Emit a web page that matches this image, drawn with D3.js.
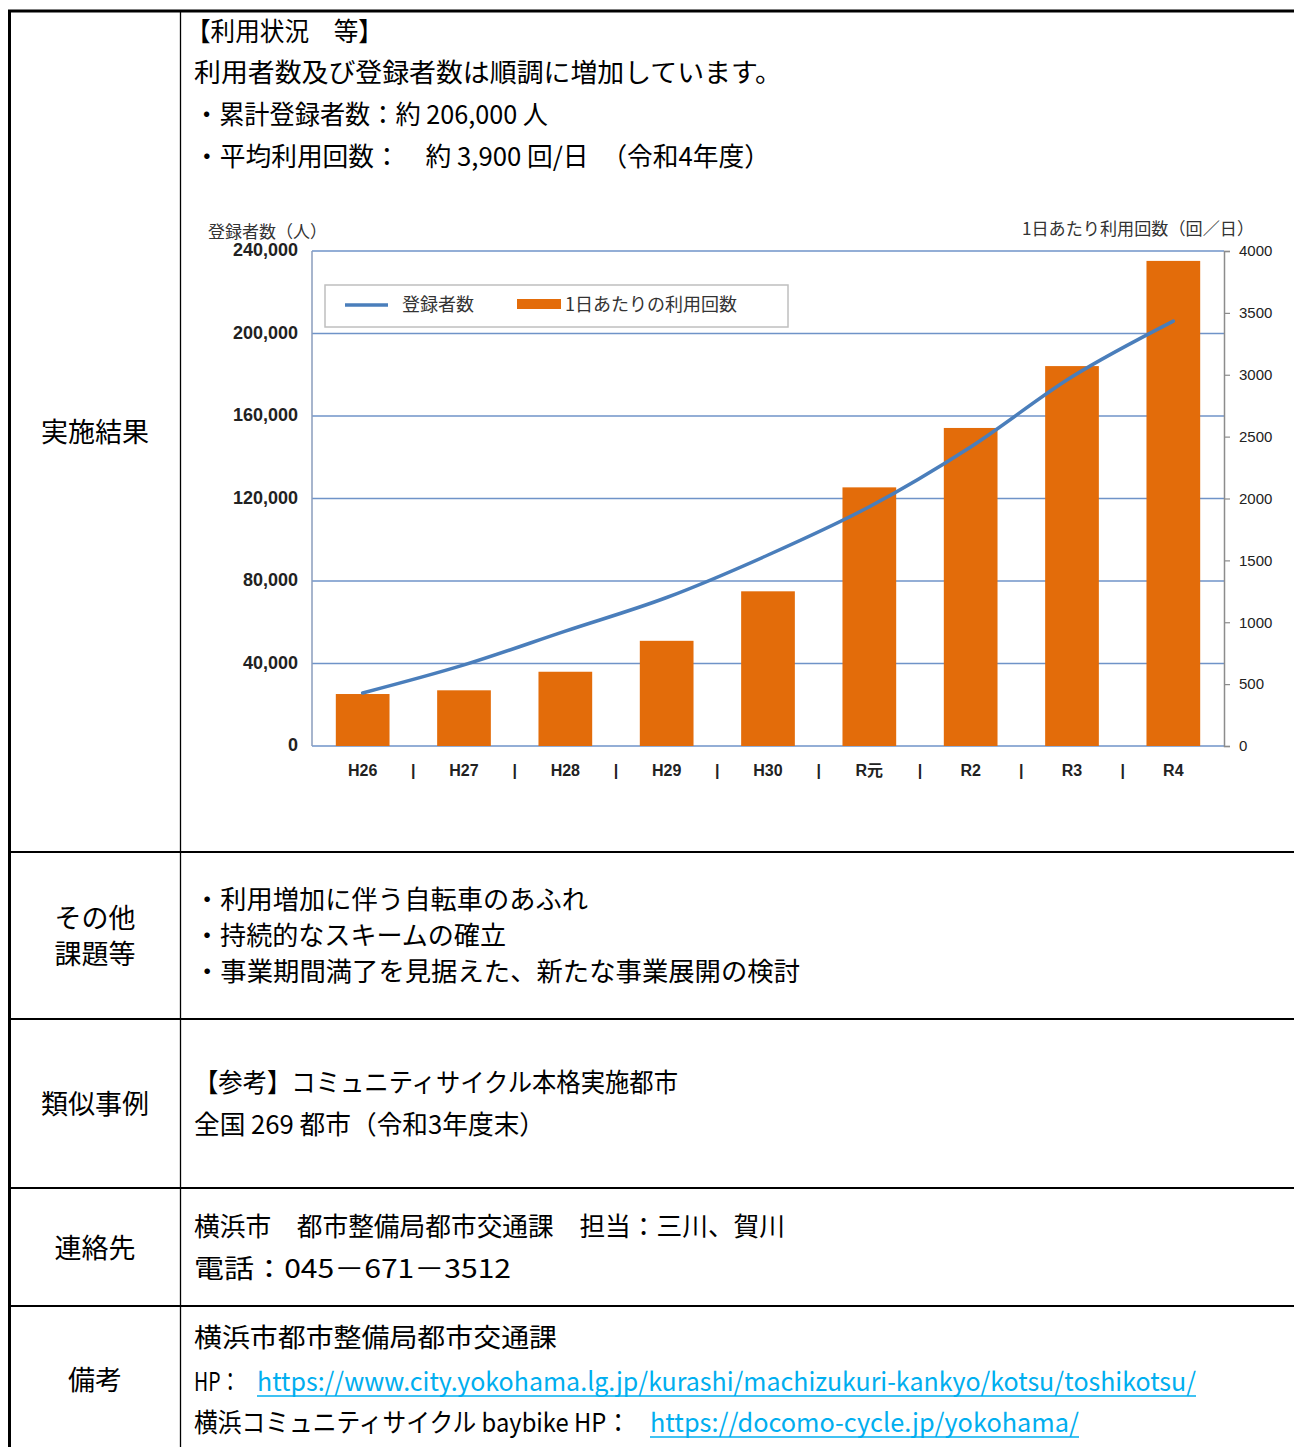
<!DOCTYPE html>
<html>
<head>
<meta charset="utf-8">
<script src="https://cdn.jsdelivr.net/npm/d3@7"></script>
<style>
  body { margin: 0; background: #fff; }
  svg { display: block; }
</style>
</head>
<body>
<div id="chart"></div>
<script>
// data
const categories = ["H26", "H27", "H28", "H29", "H30", "R元", "R2", "R3", "R4"];
const registrants = [25700, 39300, 55700, 72000, 92600, 116000, 145000, 179000, 206000];
const dailyUses = [420, 450, 600, 850, 1250, 2090, 2570, 3070, 3920];
const leftTicks = [0, 40000, 80000, 120000, 160000, 200000, 240000];
const rightTicks = [0, 500, 1000, 1500, 2000, 2500, 3000, 3500, 4000];

const rowLabels = [["実施結果"], ["その他", "課題等"], ["類似事例"], ["連絡先"], ["備考"]];
const usageLines = ["【利用状況　等】", "利用者数及び登録者数は順調に増加しています。",
    "・累計登録者数：約 206,000 人", "・平均利用回数：　約 3,900 回/日　（令和4年度）"];
const issueLines = ["・利用増加に伴う自転車のあふれ", "・持続的なスキームの確立",
    "・事業期間満了を見据えた、新たな事業展開の検討"];
const similarLines = ["【参考】コミュニティサイクル本格実施都市", "全国 269 都市（令和3年度末）"];
const contactLines = ["横浜市　都市整備局都市交通課　担当：三川、賀川", "電話：045－671－3512"];
const noteLines = ["横浜市都市整備局都市交通課", "HP：", "横浜コミュニティサイクル baybike HP："];
const links = ["https://www.city.yokohama.lg.jp/kurashi/machizukuri-kankyo/kotsu/toshikotsu/",
    "https://docomo-cycle.jp/yokohama/"];

const width = 1294, height = 1447;
const jp = "'Noto Sans CJK JP', 'Noto Sans', sans-serif";
const latin = "'Liberation Sans', Arial, 'Noto Sans CJK JP', sans-serif";

let svg = d3.select("#chart")
    .append("svg")
    .attr("width", width)
    .attr("height", height);

svg.append("rect").attr("width", width).attr("height", height).attr("fill", "#fff");

// ---- table frame ----
let frame = svg.append("g").attr("stroke", "#000");
frame.append("line").attr("x1", 8).attr("x2", width).attr("y1", 11).attr("y2", 11).attr("stroke-width", 3);
frame.append("line").attr("x1", 9.5).attr("x2", 9.5).attr("y1", 10).attr("y2", height).attr("stroke-width", 3);
frame.append("line").attr("x1", 180.5).attr("x2", 180.5).attr("y1", 11).attr("y2", height).attr("stroke-width", 1.3);
[852, 1019, 1188, 1306].forEach(function(y) {
    frame.append("line").attr("x1", 8).attr("x2", width).attr("y1", y).attr("y2", y).attr("stroke-width", 2.2);
});

// row labels
const labelY = [[432], [918, 954], [1104], [1248], [1380]];
rowLabels.forEach(function(lines, i) {
    lines.forEach(function(t, j) {
        svg.append("text")
            .attr("x", 95).attr("y", labelY[i][j])
            .attr("dy", "0.36em")
            .style("text-anchor", "middle")
            .style("font-family", jp)
            .style("font-size", "27px")
            .text(t);
    });
});

// body text, stretched to the width seen in the picture
function bodyText(t, x, y, x2, color) {
    let el = svg.append("text")
        .attr("x", x).attr("y", y)
        .attr("dy", "0.36em")
        .style("font-family", jp)
        .style("font-size", "26px")
        .style("fill", color || "#000")
        .text(t);
    if (x2) el.attr("textLength", x2 - x).attr("lengthAdjust", "spacingAndGlyphs");
    return el;
}

bodyText(usageLines[0], 186, 32, 383);
bodyText(usageLines[1], 194, 73, 782);
bodyText(usageLines[2], 194, 115, 548);
bodyText(usageLines[3], 194, 157, 770);

bodyText(issueLines[0], 194, 900, 588);
bodyText(issueLines[1], 194, 936, 506);
bodyText(issueLines[2], 194, 972, 800);

bodyText(similarLines[0], 194, 1083, 678);
bodyText(similarLines[1], 194, 1125, 545);

bodyText(contactLines[0], 194, 1227, 785);
bodyText(contactLines[1], 194, 1269, 511);

bodyText(noteLines[0], 194, 1338, 557);
bodyText(noteLines[1], 194, 1382, 240);
bodyText(noteLines[2], 194, 1423, 630);

const linkColor = "#00aeef";
[[links[0], 257, 1382, 1196], [links[1], 650, 1423, 1079]].forEach(function(l) {
    bodyText(l[0], l[1], l[2], l[3], linkColor);
    svg.append("line")
        .attr("x1", l[1]).attr("x2", l[3])
        .attr("y1", l[2] + 14).attr("y2", l[2] + 14)
        .attr("stroke", linkColor).attr("stroke-width", 1.6);
});

// ---- chart ----
const plot = {left: 312, right: 1224, top: 251, bottom: 746};

let x = d3.scaleBand()
    .domain(categories)
    .range([plot.left, plot.right])
    .paddingInner(0.47)
    .paddingOuter(0.235);

let yLeft = d3.scaleLinear().domain([0, 240000]).range([plot.bottom, plot.top]);
let yRight = d3.scaleLinear().domain([0, 4000]).range([plot.bottom, plot.top]);

let chart = svg.append("g");

// gridlines
chart.append("g")
    .selectAll("line")
    .data(leftTicks)
    .enter()
    .append("line")
    .attr("x1", plot.left).attr("x2", plot.right)
    .attr("y1", d => yLeft(d)).attr("y2", d => yLeft(d))
    .attr("stroke", "#6f93c8")
    .attr("stroke-width", 1.6);

// left axis line
chart.append("line")
    .attr("x1", plot.left).attr("x2", plot.left)
    .attr("y1", plot.top).attr("y2", plot.bottom)
    .attr("stroke", "#8a9cbc").attr("stroke-width", 1.5);

// left axis labels
chart.append("g")
    .selectAll("text")
    .data(leftTicks)
    .enter()
    .append("text")
    .attr("x", 298)
    .attr("y", d => yLeft(d))
    .attr("dy", "0.3em")
    .style("text-anchor", "end")
    .style("font-family", latin)
    .style("font-weight", "bold")
    .style("font-size", "18px")
    .style("fill", "#222")
    .text(d => d3.format(",")(d));

// right axis
let rightAxis = chart.append("g")
    .attr("transform", `translate(${plot.right}, 0)`)
    .call(d3.axisRight(yRight).tickValues(rightTicks).tickFormat(d3.format("d")).tickSize(6).tickPadding(9));
rightAxis.select(".domain").attr("stroke", "#8c8c8c").attr("stroke-width", 1.5);
rightAxis.selectAll(".tick line").attr("stroke", "#8c8c8c").attr("stroke-width", 1.2);
rightAxis.selectAll(".tick text")
    .style("font-family", latin)
    .style("font-size", "15px")
    .style("fill", "#222");

// bars
chart.append("g")
    .selectAll("rect")
    .data(categories)
    .enter()
    .append("rect")
    .attr("x", d => x(d))
    .attr("y", (d, i) => yRight(dailyUses[i]))
    .attr("width", x.bandwidth())
    .attr("height", (d, i) => plot.bottom - yRight(dailyUses[i]))
    .attr("fill", "#e36c0a");

// registrants line
let line = d3.line()
    .x((d, i) => x(categories[i]) + x.bandwidth() / 2)
    .y(d => yLeft(d))
    .curve(d3.curveMonotoneX);

chart.append("path")
    .datum(registrants)
    .attr("d", line)
    .attr("fill", "none")
    .attr("stroke", "#4a7ebb")
    .attr("stroke-width", 3.5)
    .attr("stroke-linecap", "round");

// x labels and separators
chart.append("g")
    .selectAll("text")
    .data(categories)
    .enter()
    .append("text")
    .attr("x", d => x(d) + x.bandwidth() / 2)
    .attr("y", 770)
    .attr("dy", "0.36em")
    .style("text-anchor", "middle")
    .style("font-family", latin)
    .style("font-weight", "bold")
    .style("font-size", "16px")
    .style("fill", "#222")
    .text(d => d);

chart.append("g")
    .selectAll("text")
    .data(categories.slice(1))
    .enter()
    .append("text")
    .attr("x", d => x(d) - x.step() * x.paddingInner() / 2)
    .attr("y", 770)
    .attr("dy", "0.36em")
    .style("text-anchor", "middle")
    .style("font-family", latin)
    .style("font-weight", "bold")
    .style("font-size", "16px")
    .style("fill", "#222")
    .text("|");

// axis titles
chart.append("text")
    .attr("x", 208).attr("y", 232)
    .attr("dy", "0.36em")
    .style("font-family", jp)
    .style("font-size", "17px")
    .style("fill", "#333")
    .text("登録者数（人）");

chart.append("text")
    .attr("x", 1022).attr("y", 229)
    .attr("dy", "0.36em")
    .attr("textLength", 232).attr("lengthAdjust", "spacingAndGlyphs")
    .style("font-family", jp)
    .style("font-size", "17px")
    .style("fill", "#333")
    .text("1日あたり利用回数（回／日）");

// legend
let legend = chart.append("g");
legend.append("rect")
    .attr("x", 325).attr("y", 285)
    .attr("width", 463).attr("height", 42)
    .attr("fill", "#fff")
    .attr("stroke", "#bfbfbf").attr("stroke-width", 1.5);
legend.append("line")
    .attr("x1", 345).attr("x2", 388).attr("y1", 305).attr("y2", 305)
    .attr("stroke", "#4a7ebb").attr("stroke-width", 3.5);
legend.append("text")
    .attr("x", 402).attr("y", 305).attr("dy", "0.36em")
    .style("font-family", jp).style("font-size", "18px").style("fill", "#333")
    .text("登録者数");
legend.append("rect")
    .attr("x", 517).attr("y", 299).attr("width", 44).attr("height", 10)
    .attr("fill", "#e36c0a");
legend.append("text")
    .attr("x", 565).attr("y", 305).attr("dy", "0.36em")
    .style("font-family", jp).style("font-size", "18px").style("fill", "#333")
    .text("1日あたりの利用回数");
</script>
</body>
</html>
